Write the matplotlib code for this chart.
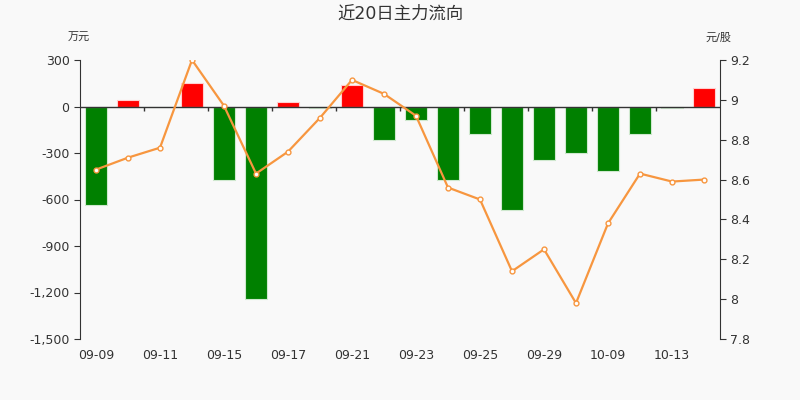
import matplotlib
matplotlib.use('Agg')
import matplotlib.pyplot as plt
from matplotlib.ticker import FuncFormatter, MultipleLocator

plt.rcParams['font.family'] = ['DejaVu Sans', 'Noto Sans CJK SC']

# 日期、主力净流入(万元)、收盘价(元/股)
fechas = ['09-09', '09-10', '09-11', '09-14', '09-15', '09-16', '09-17', '09-18',
          '09-21', '09-22', '09-23', '09-24', '09-25', '09-28', '09-29', '09-30',
          '10-09', '10-12', '10-13', '10-14']
flujo = [-634, 40, -5, 150, -473, -1240, 29, -8, 140, -218,
         -89, -471, -175, -668, -342, -297, -415, -175, -8, 121]
precio = [8.65, 8.71, 8.76, 9.20, 8.97, 8.63, 8.74, 8.91, 9.10, 9.03,
          8.92, 8.56, 8.50, 8.14, 8.25, 7.98, 8.38, 8.63, 8.59, 8.60]

bg = '#f9f9f9'
txt = '#333333'

fig = plt.figure(figsize=(8, 4), dpi=100, facecolor=bg)
ax = fig.add_axes([0.1, 0.1525, 0.8, 0.6975], facecolor=bg)

x = list(range(len(fechas)))
colores = ['#ff0000' if v >= 0 else '#008000' for v in flujo]
bordes = ['#ffd0d0' if v >= 0 else '#cfe8cf' for v in flujo]
ax.bar(x, flujo, width=0.7, color=colores, edgecolor=bordes, linewidth=0.8, zorder=2)

ax.set_xlim(-0.5, len(fechas) - 0.5)
ax.set_ylim(-1500, 300)
ax.yaxis.set_major_locator(MultipleLocator(300))
ax.yaxis.set_major_formatter(FuncFormatter(lambda v, p: f'{int(v):,}'))

# eje x: linea en cero y marcas entre barras
ax.axhline(0, color=txt, linewidth=1, zorder=3)
limites = [i + 1.5 for i in range(0, len(fechas) - 2, 2)]
ax.vlines(limites, -26, 0, color=txt, linewidth=1, zorder=3)

ax.set_xticks(x[::2])
ax.set_xticklabels(fechas[::2])
ax.tick_params(axis='x', length=0, pad=7, labelsize=9, colors=txt)
ax.tick_params(axis='y', length=4, direction='out', labelsize=9, colors=txt)

for s in ['top', 'right', 'bottom']:
    ax.spines[s].set_visible(False)
ax.spines['left'].set_color(txt)

ax2 = ax.twinx()
ax2.plot(x, precio, color='#f7963f', linewidth=1.6, marker='o', markersize=3.5,
         markerfacecolor='white', markeredgecolor='#f7963f', markeredgewidth=1, zorder=4)
ax2.set_ylim(7.8, 9.2)
ax2.yaxis.set_major_locator(MultipleLocator(0.2))
ax2.yaxis.set_major_formatter(FuncFormatter(lambda v, p: f'{round(v, 1):g}'))
ax2.tick_params(axis='y', length=4, direction='out', labelsize=9, colors=txt)
for s in ['top', 'left', 'bottom']:
    ax2.spines[s].set_visible(False)
ax2.spines['right'].set_color(txt)

fig.text(0.5, 0.965, '近20日主力流向', ha='center', va='center', fontsize=12.5,
         color=txt)
fig.text(0.085, 0.905, '万元', ha='left', va='center', fontsize=8, color=txt)
fig.text(0.915, 0.905, '元/股', ha='right', va='center', fontsize=8, color=txt)

fig.savefig('out.png', dpi=100, facecolor=bg)
